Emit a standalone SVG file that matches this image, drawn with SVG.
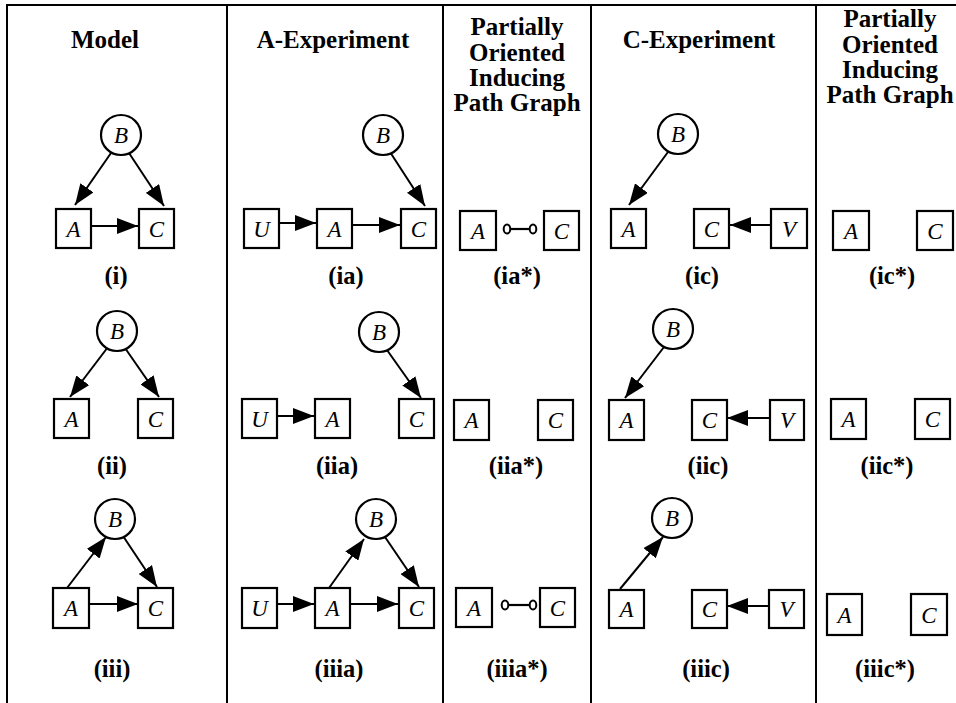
<svg xmlns="http://www.w3.org/2000/svg" width="956" height="703" viewBox="0 0 956 703">
<defs>
<style>
.frame{stroke:#000;stroke-width:2;fill:none}
.box{fill:#fff;stroke:#000;stroke-width:2.2}
.nl{font-family:"Liberation Serif","Times New Roman",serif;font-style:italic;font-size:23px;text-anchor:middle;fill:#000}
.hd{font-family:"Liberation Serif","Times New Roman",serif;font-weight:bold;font-size:25px;text-anchor:middle;fill:#000}
.lb{font-family:"Liberation Serif","Times New Roman",serif;font-weight:bold;font-size:24.5px;text-anchor:middle;fill:#000}
.e{stroke:#000;stroke-width:2;fill:none;marker-end:url(#arr)}
.u{stroke:#000;stroke-width:2.2;fill:none}
.oc{fill:#fff;stroke:#000;stroke-width:2}
</style>
<marker id="arr" markerWidth="21" markerHeight="16" refX="21" refY="8" orient="auto" markerUnits="userSpaceOnUse">
<path d="M0,0 L21,8 L0,16 z" fill="#000"/>
</marker>
</defs>
<rect width="956" height="703" fill="#fff"/>
<g id="frame">
<line class="frame" x1="6" y1="5" x2="956" y2="5"/>
<line class="frame" x1="7" y1="4" x2="7" y2="703"/>
<line class="frame" x1="227" y1="4" x2="227" y2="703"/>
<line class="frame" x1="443" y1="4" x2="443" y2="703"/>
<line class="frame" x1="591" y1="4" x2="591" y2="703"/>
<line class="frame" x1="816" y1="4" x2="816" y2="703"/>
</g>
<g id="headers">
<text class="hd" x="105" y="48">Model</text>
<text class="hd" x="333" y="48">A-Experiment</text>
<text class="hd" x="517" y="35">Partially</text>
<text class="hd" x="517" y="61">Oriented</text>
<text class="hd" x="517" y="86">Inducing</text>
<text class="hd" x="517" y="111">Path Graph</text>
<text class="hd" x="699" y="48">C-Experiment</text>
<text class="hd" x="890" y="27">Partially</text>
<text class="hd" x="890" y="53">Oriented</text>
<text class="hd" x="890" y="78">Inducing</text>
<text class="hd" x="890" y="103">Path Graph</text>
</g>
<g id="labels">
<text class="lb" x="116" y="284">(i)</text>
<text class="lb" x="346" y="284">(ia)</text>
<text class="lb" x="517" y="284">(ia*)</text>
<text class="lb" x="702" y="284">(ic)</text>
<text class="lb" x="892" y="284">(ic*)</text>
<text class="lb" x="112" y="474">(ii)</text>
<text class="lb" x="337" y="474">(iia)</text>
<text class="lb" x="516" y="474">(iia*)</text>
<text class="lb" x="708" y="474">(iic)</text>
<text class="lb" x="887" y="474">(iic*)</text>
<text class="lb" x="112" y="677">(iii)</text>
<text class="lb" x="339" y="677">(iiia)</text>
<text class="lb" x="517" y="677">(iiia*)</text>
<text class="lb" x="706" y="677">(iiic)</text>
<text class="lb" x="885" y="677">(iiic*)</text>
</g>
<g id="connectors">
<!-- (i) -->
<line class="e" x1="111" y1="153" x2="75" y2="205"/>
<line class="e" x1="129" y1="153" x2="164" y2="206"/>
<line class="e" x1="92" y1="226" x2="138" y2="226"/>
<!-- (ia) -->
<line class="e" x1="280" y1="223" x2="316" y2="223"/>
<line class="e" x1="353" y1="225" x2="400" y2="225"/>
<line class="e" x1="390" y1="152" x2="425" y2="206"/>
<!-- (ia*) -->
<line class="u" x1="510" y1="229" x2="530" y2="229"/>
<!-- (ic) -->
<line class="e" x1="668" y1="152" x2="629" y2="205"/>
<line class="e" x1="771" y1="225" x2="730" y2="225"/>
<!-- (ii) -->
<line class="e" x1="108" y1="347" x2="70" y2="397"/>
<line class="e" x1="125" y1="348" x2="159" y2="397"/>
<!-- (iia) -->
<line class="e" x1="278" y1="416" x2="314" y2="416"/>
<line class="e" x1="387" y1="350" x2="421" y2="398"/>
<!-- (iic) -->
<line class="e" x1="664" y1="347" x2="625" y2="398"/>
<line class="e" x1="770" y1="418" x2="727" y2="418"/>
<!-- (iii) -->
<line class="e" x1="67" y1="588" x2="106" y2="537"/>
<line class="e" x1="123" y1="536" x2="157" y2="587"/>
<line class="e" x1="90" y1="604" x2="138" y2="604"/>
<!-- (iiia) -->
<line class="e" x1="278" y1="604" x2="314" y2="604"/>
<line class="e" x1="349" y1="604" x2="398" y2="604"/>
<line class="e" x1="329" y1="588" x2="364" y2="539"/>
<line class="e" x1="385" y1="537" x2="419" y2="587"/>
<!-- (iiia*) -->
<line class="u" x1="508" y1="605" x2="530" y2="605"/>
<!-- (iiic) -->
<line class="e" x1="620" y1="589" x2="663" y2="537"/>
<line class="e" x1="769" y1="606" x2="727" y2="606"/>
</g>
<g id="oc-marks">
<ellipse class="oc" cx="507" cy="229" rx="3.3" ry="4.5"/>
<ellipse class="oc" cx="533" cy="229" rx="3.3" ry="4.5"/>
<ellipse class="oc" cx="505" cy="605" rx="3.3" ry="4.5"/>
<ellipse class="oc" cx="533" cy="605" rx="3.3" ry="4.5"/>
</g>
<!-- Row 1 -->
<g id="i-B"><circle class="box" cx="121" cy="135" r="20"/><text class="nl" x="121" y="143">B</text></g>
<g id="i-A"><rect class="box" x="56" y="209" width="35" height="39"/><text class="nl" x="73.5" y="236.5">A</text></g>
<g id="i-C"><rect class="box" x="139" y="209" width="35" height="39"/><text class="nl" x="156.5" y="236.5">C</text></g>
<g id="ia-B"><circle class="box" cx="383" cy="135" r="20"/><text class="nl" x="383" y="143">B</text></g>
<g id="ia-U"><rect class="box" x="244" y="209" width="35" height="39"/><text class="nl" x="261.5" y="236.5">U</text></g>
<g id="ia-A"><rect class="box" x="317" y="209" width="35" height="39"/><text class="nl" x="334.5" y="236.5">A</text></g>
<g id="ia-C"><rect class="box" x="401" y="209" width="35" height="39"/><text class="nl" x="418.5" y="236.5">C</text></g>
<g id="ias-A"><rect class="box" x="460" y="211" width="36" height="39"/><text class="nl" x="478" y="238.5">A</text></g>
<g id="ias-C"><rect class="box" x="544" y="211" width="35" height="39"/><text class="nl" x="561.5" y="238.5">C</text></g>
<g id="ic-B"><circle class="box" cx="678" cy="134" r="20"/><text class="nl" x="678" y="142">B</text></g>
<g id="ic-A"><rect class="box" x="611" y="209" width="35" height="39"/><text class="nl" x="628.5" y="236.5">A</text></g>
<g id="ic-C"><rect class="box" x="694" y="209" width="35" height="39"/><text class="nl" x="711.5" y="236.5">C</text></g>
<g id="ic-V"><rect class="box" x="771" y="209" width="36" height="39"/><text class="nl" x="789" y="236.5">V</text></g>
<g id="ics-A"><rect class="box" x="833" y="211" width="36" height="39"/><text class="nl" x="851" y="238.5">A</text></g>
<g id="ics-C"><rect class="box" x="917" y="211" width="36" height="39"/><text class="nl" x="935" y="238.5">C</text></g>
<!-- Row 2 -->
<g id="ii-B"><circle class="box" cx="117" cy="331" r="20"/><text class="nl" x="117" y="339">B</text></g>
<g id="ii-A"><rect class="box" x="54" y="399" width="35" height="39"/><text class="nl" x="71.5" y="426.5">A</text></g>
<g id="ii-C"><rect class="box" x="138" y="399" width="35" height="39"/><text class="nl" x="155.5" y="426.5">C</text></g>
<g id="iia-B"><circle class="box" cx="379" cy="332" r="20"/><text class="nl" x="379" y="340">B</text></g>
<g id="iia-U"><rect class="box" x="242" y="399" width="35" height="39"/><text class="nl" x="259.5" y="426.5">U</text></g>
<g id="iia-A"><rect class="box" x="315" y="399" width="35" height="39"/><text class="nl" x="332.5" y="426.5">A</text></g>
<g id="iia-C"><rect class="box" x="399" y="399" width="35" height="39"/><text class="nl" x="416.5" y="426.5">C</text></g>
<g id="iias-A"><rect class="box" x="454" y="400" width="35" height="40"/><text class="nl" x="471.5" y="428">A</text></g>
<g id="iias-C"><rect class="box" x="538" y="400" width="35" height="40"/><text class="nl" x="555.5" y="428">C</text></g>
<g id="iic-B"><circle class="box" cx="673" cy="329" r="20"/><text class="nl" x="673" y="337">B</text></g>
<g id="iic-A"><rect class="box" x="609" y="400" width="35" height="40"/><text class="nl" x="626.5" y="428">A</text></g>
<g id="iic-C"><rect class="box" x="692" y="400" width="35" height="40"/><text class="nl" x="709.5" y="428">C</text></g>
<g id="iic-V"><rect class="box" x="770" y="400" width="34" height="40"/><text class="nl" x="787" y="428">V</text></g>
<g id="iics-A"><rect class="box" x="831" y="399" width="35" height="40"/><text class="nl" x="848.5" y="427">A</text></g>
<g id="iics-C"><rect class="box" x="915" y="399" width="35" height="40"/><text class="nl" x="932.5" y="427">C</text></g>
<!-- Row 3 -->
<g id="iii-B"><circle class="box" cx="115" cy="519" r="20"/><text class="nl" x="115" y="527">B</text></g>
<g id="iii-A"><rect class="box" x="53" y="588" width="36" height="40"/><text class="nl" x="71" y="616">A</text></g>
<g id="iii-C"><rect class="box" x="138" y="588" width="35" height="40"/><text class="nl" x="155.5" y="616">C</text></g>
<g id="iiia-B"><circle class="box" cx="376" cy="519" r="20"/><text class="nl" x="376" y="527">B</text></g>
<g id="iiia-U"><rect class="box" x="242" y="588" width="35" height="40"/><text class="nl" x="259.5" y="616">U</text></g>
<g id="iiia-A"><rect class="box" x="315" y="588" width="35" height="40"/><text class="nl" x="332.5" y="616">A</text></g>
<g id="iiia-C"><rect class="box" x="399" y="588" width="35" height="40"/><text class="nl" x="416.5" y="616">C</text></g>
<g id="iiias-A"><rect class="box" x="456" y="588" width="36" height="39"/><text class="nl" x="474" y="615.5">A</text></g>
<g id="iiias-C"><rect class="box" x="540" y="588" width="35" height="39"/><text class="nl" x="557.5" y="615.5">C</text></g>
<g id="iiic-B"><circle class="box" cx="672" cy="518" r="20"/><text class="nl" x="672" y="526">B</text></g>
<g id="iiic-A"><rect class="box" x="609" y="590" width="35" height="38"/><text class="nl" x="626.5" y="616.5">A</text></g>
<g id="iiic-C"><rect class="box" x="692" y="590" width="35" height="38"/><text class="nl" x="709.5" y="616.5">C</text></g>
<g id="iiic-V"><rect class="box" x="769" y="590" width="35" height="38"/><text class="nl" x="786.5" y="616.5">V</text></g>
<g id="iiics-A"><rect class="box" x="827" y="594" width="35" height="41"/><text class="nl" x="844.5" y="622.5">A</text></g>
<g id="iiics-C"><rect class="box" x="911" y="594" width="36" height="41"/><text class="nl" x="929" y="622.5">C</text></g>
</svg>
